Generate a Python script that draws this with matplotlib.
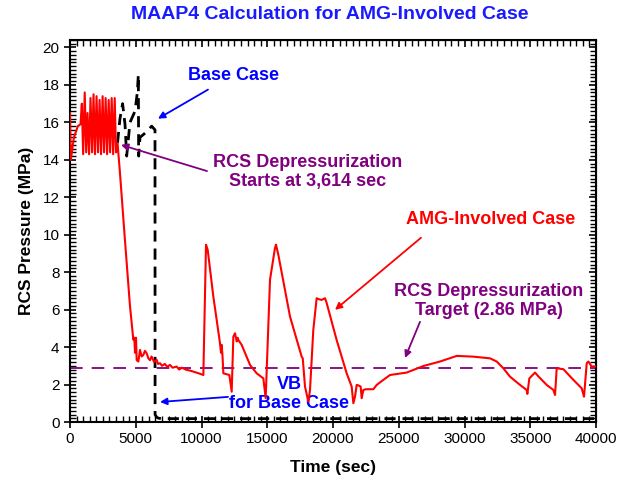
import matplotlib
matplotlib.use("Agg")
import matplotlib.pyplot as plt
from matplotlib.ticker import MultipleLocator

plt.rcParams['font.family'] = ['Liberation Sans', 'DejaVu Sans']

# ---------------- data ----------------
t_amg = [0, 60, 300, 600, 800,
         900, 1000, 1120, 1230, 1330, 1450, 1560, 1680, 1790, 1900, 2020, 2130,
         2250, 2360, 2480, 2590, 2710, 2820, 2940, 3050, 3170, 3280, 3400,
         3500, 3614,
         3800, 4180, 4560, 4815, 4890, 4943, 5020, 5070, 5197, 5323, 5450, 5577,
         5700, 5830, 5960, 6084, 6200, 6400, 6591, 6700, 6845, 7000, 7200, 7400,
         7600, 7800, 8113, 8300, 8500, 8874, 9100, 9382, 9700, 10141,
         10343, 10470, 10900, 11408, 11480, 11535, 11600, 11662, 12118, 12296,
         12422, 12549, 12680, 12750, 12803, 13055, 13689, 14196, 14703, 14880,
         15210, 15590, 15666, 15843, 16731, 17617, 17700, 17871, 18124, 18250,
         18503, 18757, 18950, 19137, 19390, 19500, 20278, 21040, 21420, 21548,
         21674, 21801, 21950, 22105, 22181, 22308, 22500, 23068, 23322, 23829,
         24336, 25604, 26871, 28139, 29407, 30675, 31941, 32450, 32953, 33462,
         34222, 34729, 34780, 34932, 35362, 35600, 36250, 36758, 36885, 37012,
         37519, 38280, 38913, 39090, 39294, 39420, 39674, 40000]
p_amg = [16.5, 14.0, 15.2, 15.8, 15.9,
         17.0, 14.3, 17.6, 14.4, 16.5, 14.3, 17.3, 14.4, 17.5, 14.3, 17.4, 14.4,
         17.2, 14.3, 17.4, 14.4, 17.3, 14.3, 17.2, 14.4, 17.3, 14.3, 17.3,
         14.4, 14.9,
         13.3, 9.7, 6.2, 4.4, 4.5, 3.7, 4.5, 3.3, 3.23, 3.85, 3.5, 3.58,
         3.8, 3.67, 3.4, 3.3, 3.5, 3.2, 3.32, 3.1, 3.14, 3.0, 3.1, 2.95,
         3.05, 2.9, 2.96, 2.8, 2.9, 2.78, 2.75, 2.69, 2.62, 2.51,
         9.47, 9.2, 6.7, 4.2, 3.7, 4.12, 3.5, 2.6, 2.51, 1.62,
         4.56, 4.74, 4.3, 4.5, 4.38, 4.12, 3.05, 2.6, 2.33, 1.27,
         7.6, 9.3, 9.47, 8.93, 5.63, 3.49, 3.4, 1.89, 1.09, 1.7,
         4.92, 6.61, 6.55, 6.52, 6.61, 6.4, 4.38, 2.6, 1.89, 1.0,
         1.35, 1.98, 1.95, 1.89, 1.27, 1.71, 1.75, 1.75, 1.98, 2.25,
         2.51, 2.64, 2.99, 3.23, 3.53, 3.49, 3.4, 3.23, 2.87, 2.42,
         1.98, 1.71, 1.5, 2.33, 2.64, 2.45, 1.98, 1.71, 1.44, 2.87,
         2.82, 2.25, 1.8, 1.35, 3.14, 3.23, 2.96, 2.96]

t_base = [3614, 3800, 4000, 4183, 4310, 4563, 4943, 5120, 5197, 5220, 5323,
          5830, 6210, 6464, 6470, 6591, 6750, 7000, 40000]
p_base = [14.9, 16.2, 17.0, 15.9, 14.2, 16.0, 16.6, 17.6, 18.55, 14.2, 15.2,
          15.5, 15.8, 15.6, 0.4, 0.25, 0.2, 0.18, 0.18]

target = 2.86

x_ticks = [0, 5000, 10000, 15000, 20000, 25000, 30000, 35000, 40000]
y_ticks = [0, 2, 4, 6, 8, 10, 12, 14, 16, 18, 20]

# ---------------- figure ----------------
fig = plt.figure(figsize=(6.19, 4.82), dpi=100)
ax = fig.add_axes([70/619, 60/482, 526/619, 382/482])

ax.plot(t_base, p_base, color='black', lw=2.0, ls=(0, (4, 2.5)), zorder=3)
ax.plot(t_amg, p_amg, color='#ff0000', lw=1.5, zorder=4)
ax.axhline(target, color='#800080', lw=1.3, ls=(0, (7, 5)), zorder=2)

ax.set_xlim(0, 40000)
ax.set_ylim(0, 20.4)
ax.set_xticks(x_ticks)
ax.set_yticks(y_ticks)
ax.xaxis.set_minor_locator(MultipleLocator(500))
ax.yaxis.set_minor_locator(MultipleLocator(0.2))
ax.tick_params(which='major', direction='inout', length=9, width=1.2,
               labelsize=11, pad=3)
ax.tick_params(which='minor', direction='in', length=4, width=1.0)
for s in ax.spines.values():
    s.set_linewidth(1.5)

secx = ax.secondary_xaxis('top')
secx.set_xticks(x_ticks)
secx.xaxis.set_minor_locator(MultipleLocator(500))
secx.tick_params(which='major', direction='in', length=5, width=1.2, labeltop=False)
secx.tick_params(which='minor', direction='in', length=4, width=1.0)
secy = ax.secondary_yaxis('right')
secy.set_yticks(y_ticks)
secy.yaxis.set_minor_locator(MultipleLocator(0.2))
secy.tick_params(which='major', direction='in', length=5, width=1.2, labelright=False)
secy.tick_params(which='minor', direction='in', length=4, width=1.0)

ax.set_xlabel('Time (sec)', fontsize=12.5, fontweight='bold', labelpad=10)
ax.set_ylabel('RCS Pressure (MPa)', fontsize=12.5, fontweight='bold', labelpad=6)

fig.text(0.533, 0.969, 'MAAP4 Calculation for AMG-Involved Case', ha='center',
         va='center', fontsize=14, fontweight='bold', color='#1a1aff')

fs = 13
blue = '#0000ff'
purple = '#800080'
red = '#ff0000'

ax.text(12396, 18.5, 'Base Case', color=blue, fontsize=fs, fontweight='bold',
        ha='center', va='center')
ax.annotate('', xy=(6692, 16.2), xytext=(10494, 17.75),
            arrowprops=dict(arrowstyle='-|>', color=blue, lw=1.3,
                            mutation_scale=10, shrinkA=0, shrinkB=0))

ax.text(18100, 13.34, 'RCS Depressurization\nStarts at 3,614 sec', color=purple,
        fontsize=fs, fontweight='bold', ha='center', va='center',
        multialignment='center', linespacing=1.15)
ax.annotate('', xy=(3878, 14.8), xytext=(10419, 13.4),
            arrowprops=dict(arrowstyle='-|>', color=purple, lw=1.3,
                            mutation_scale=10, shrinkA=0, shrinkB=0))

ax.text(32017, 10.8, 'AMG-Involved Case', color=red, fontsize=fs,
        fontweight='bold', ha='center', va='center')
ax.annotate('', xy=(20153, 5.99), xytext=(26693, 9.84),
            arrowprops=dict(arrowstyle='-|>', color=red, lw=1.3,
                            mutation_scale=10, shrinkA=0, shrinkB=0))

ax.text(31865, 6.44, 'RCS Depressurization\nTarget (2.86 MPa)', color=purple,
        fontsize=fs, fontweight='bold', ha='center', va='center',
        multialignment='center', linespacing=1.15)
ax.annotate('', xy=(25477, 3.42), xytext=(26617, 5.35),
            arrowprops=dict(arrowstyle='-|>', color=purple, lw=1.3,
                            mutation_scale=10, shrinkA=0, shrinkB=0))

ax.text(16655, 1.5, 'VB\nfor Base Case', color=blue, fontsize=fs,
        fontweight='bold', ha='center', va='center', linespacing=1.15)
ax.annotate('', xy=(6845, 1.07), xytext=(12016, 1.34),
            arrowprops=dict(arrowstyle='-|>', color=blue, lw=1.3,
                            mutation_scale=10, shrinkA=0, shrinkB=0))

fig.savefig('out.png', dpi=100)
